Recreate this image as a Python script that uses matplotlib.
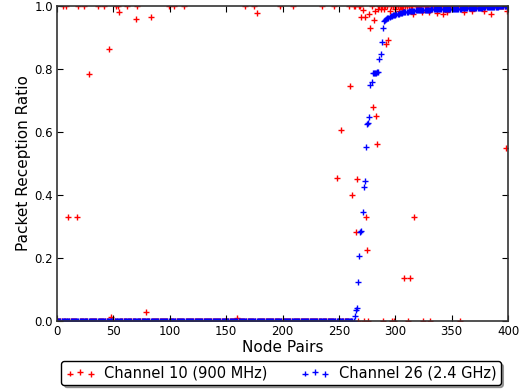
import numpy as np
import matplotlib
matplotlib.use('Agg')
import matplotlib.pyplot as plt

# Packet reception ratio per node pair, pairs sorted by channel 26 PRR

# Channel 26 (2.4 GHz): all zero up to pair 263, then a steep rise
ch26_zeros = [0.0] * 264
ch26_rise = [0.016, 0.035, 0.042, 0.123, 0.205, 0.284, 0.286, 0.347, 0.426,
             0.444, 0.553, 0.624, 0.628, 0.649, 0.749, 0.760, 0.786, 0.786,
             0.787, 0.788, 0.789, 0.790, 0.832, 0.847, 0.885, 0.931, 0.952]
ch26_tail = [0.955, 0.958, 0.961, 0.963, 0.965, 0.967, 0.969, 0.970, 0.972,
             0.973, 0.974, 0.975, 0.976, 0.977, 0.978, 0.979, 0.980, 0.980,
             0.981, 0.982, 0.982, 0.983, 0.983, 0.984, 0.984, 0.985, 0.985,
             0.986, 0.986,
             0.987, 0.987, 0.987, 0.987, 0.987, 0.987,
             0.988, 0.988, 0.988, 0.988, 0.988, 0.988,
             0.989, 0.989, 0.989, 0.989, 0.989, 0.989,
             0.990, 0.990, 0.990, 0.990, 0.990, 0.990, 0.990,
             0.991, 0.991, 0.991, 0.991, 0.991, 0.991, 0.991,
             0.992, 0.992, 0.992, 0.992, 0.992, 0.992, 0.992,
             0.993, 0.993, 0.993, 0.993, 0.993, 0.993, 0.993,
             0.994, 0.994, 0.994, 0.994, 0.994, 0.994,
             0.995, 0.995, 0.995, 0.995, 0.995, 0.995,
             0.996, 0.996, 0.996, 0.996, 0.996,
             0.997, 0.997, 0.997, 0.997, 0.997,
             0.998, 0.998, 0.998, 0.998,
             0.999, 0.999, 0.999, 0.999,
             1.0, 1.0, 1.0, 1.0]

# Channel 10 (900 MHz): mostly 0 before pair 264 and mostly 1 after,
# with these exceptions
split_pair = 264
ch10_low_ones = [5, 8, 19, 24, 36, 42, 52, 54, 62, 71, 99, 104, 113, 167,
                 175, 198, 209, 235, 246, 259, 263]
ch10_low_other = {10: 0.331, 18: 0.329, 28: 0.784, 46: 0.865, 48: 0.012,
                  55: 0.981, 70: 0.959, 79: 0.028, 83: 0.965, 160: 0.009,
                  177: 0.979, 248: 0.453, 252: 0.606, 260: 0.747, 262: 0.401}
ch10_high_zeros = [267, 272, 276, 289, 297, 299, 311, 325, 331, 357]
ch10_high_other = {265: 0.281, 266: 0.450, 270: 0.966, 271: 0.987,
                   273: 0.966, 274: 0.331, 275: 0.225, 277: 0.975,
                   278: 0.929, 280: 0.678, 281: 0.956, 282: 0.985,
                   283: 0.651, 284: 0.562, 285: 0.990, 287: 0.990,
                   290: 0.992, 292: 0.880, 294: 0.892, 295: 0.985,
                   300: 0.990, 303: 0.985, 306: 0.990, 308: 0.135,
                   313: 0.135, 316: 0.974, 317: 0.331, 324: 0.982,
                   330: 0.982, 337: 0.979, 342: 0.974, 346: 0.982,
                   361: 0.982, 368: 0.985, 379: 0.984, 385: 0.974,
                   398: 0.550, 399: 0.985}

ch26 = np.array(ch26_zeros + ch26_rise + ch26_tail)
n = len(ch26)
pairs = np.arange(n)

ch10 = np.where(pairs < split_pair, 0.0, 1.0)
for i in ch10_low_ones:
    ch10[i] = 1.0
for i in ch10_high_zeros:
    ch10[i] = 0.0
for i, v in {**ch10_low_other, **ch10_high_other}.items():
    ch10[i] = v

fig = plt.figure(figsize=(5.21, 3.89), dpi=100)
ax = fig.add_axes([57 / 521, 1 - 321 / 389, 451 / 521, 315 / 389])

ax.scatter(pairs, ch10, marker='+', c='red', s=18, linewidths=1,
           label='Channel 10 (900 MHz)')
ax.scatter(pairs, ch26, marker='+', c='blue', s=18, linewidths=1,
           label='Channel 26 (2.4 GHz)')

ax.set_xlim(0, 400)
ax.set_ylim(0, 1)
ax.set_xticks(range(0, 401, 50))
ax.set_yticks([0.0, 0.2, 0.4, 0.6, 0.8, 1.0])
ax.tick_params(direction='in', top=True, right=True, length=4,
               labelsize=8.5, pad=3)
for sp in ax.spines.values():
    sp.set_linewidth(1.2)
    sp.set_color('#333333')

ax.set_xlabel('Node Pairs', fontsize=11, labelpad=1)
ax.set_ylabel('Packet Reception Ratio', fontsize=11, labelpad=2)

leg = fig.legend(loc='upper center', bbox_to_anchor=(281 / 521, 1 - 361 / 389),
                 ncol=2, scatterpoints=3, fancybox=True, shadow=True,
                 fontsize=10.5, borderaxespad=0, framealpha=1, borderpad=0.3,
                 edgecolor='black', handletextpad=0.6, columnspacing=2.3)

fig.savefig('out.png', dpi=100)
